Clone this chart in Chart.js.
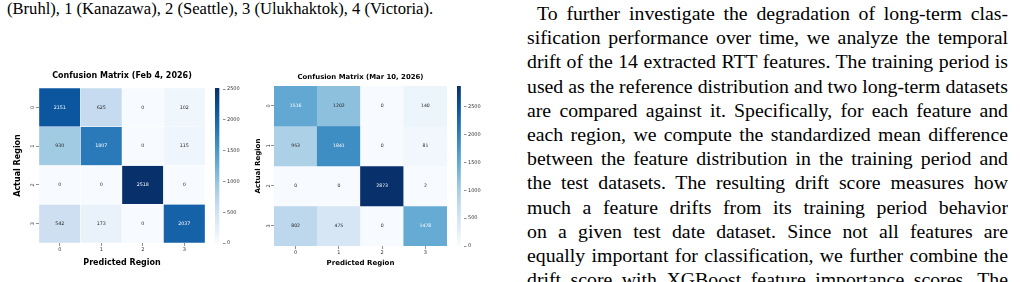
<!DOCTYPE html>
<html>
<head>
<meta charset="utf-8">
<script src="https://cdn.jsdelivr.net/npm/chart.js@4.4.1/dist/chart.umd.min.js"></script>
<style>
html, body { margin: 0; padding: 0; background: #fff; }
body { width: 1021px; height: 282px; overflow: hidden; position: relative; font-family: "Liberation Serif", "Times New Roman", serif; color: #000; }
.caption { position: absolute; left: 7px; top: -1px; font-size: 16.6px; line-height: 20px; white-space: nowrap; }
.para { position: absolute; left: 527px; top: 1px; width: 481px; font-size: 19.8px; }
.para div { height: 24.2px; line-height: 24.2px; overflow: hidden; text-align: justify; text-align-last: justify; }
.para div.first { text-indent: 10px; }
.box { position: absolute; }
</style>
</head>
<body>
<div class="caption">(Bruhl), 1 (Kanazawa), 2 (Seattle), 3 (Ulukhaktok), 4 (Victoria).</div>

<div class="box" style="left:0;top:60px"><canvas id="hm1" width="215" height="222"></canvas></div>
<div class="box" style="left:213px;top:60px"><canvas id="cb1" width="40" height="222"></canvas></div>
<div class="box" style="left:236px;top:60px"><canvas id="hm2" width="221" height="222"></canvas></div>
<div class="box" style="left:455px;top:60px"><canvas id="cb2" width="40" height="222"></canvas></div>

<div class="para">
  <div class="first">To further investigate the degradation of long-term clas-</div>
  <div>sification performance over time, we analyze the temporal</div>
  <div>drift of the 14 extracted RTT features. The training period is</div>
  <div>used as the reference distribution and two long-term datasets</div>
  <div>are compared against it. Specifically, for each feature and</div>
  <div>each region, we compute the standardized mean difference</div>
  <div>between the feature distribution in the training period and</div>
  <div>the test datasets. The resulting drift score measures how</div>
  <div>much a feature drifts from its training period behavior</div>
  <div>on a given test date dataset. Since not all features are</div>
  <div>equally important for classification, we further combine the</div>
  <div>drift score with XGBoost feature importance scores. The</div>
</div>

<script>
// region indices on both axes
const predictedLabels = ['0', '1', '2', '3'];
const actualLabels = ['0', '1', '2', '3'];

// rows = actual region, columns = predicted region
const febMatrix = [
    [2151, 625, 0, 102],
    [930, 1807, 0, 115],
    [0, 0, 2518, 0],
    [542, 173, 0, 2037]
];
const marMatrix = [
    [1516, 1202, 0, 140],
    [953, 1841, 0, 81],
    [0, 0, 2873, 2],
    [802, 475, 0, 1478]
];
const colorbarTicks = [0, 500, 1000, 1500, 2000, 2500];

// matplotlib "Blues"
const bluesStops = ['#f7fbff', '#deebf7', '#c6dbef', '#9ecae1', '#6baed6', '#4292c6', '#2171b5', '#08519c', '#08306b'];

Chart.defaults.font.family = '"DejaVu Sans", sans-serif';
Chart.defaults.color = '#333';

function hexToRgb(h) {
    return [1, 3, 5].map(i => parseInt(h.slice(i, i + 2), 16));
}

function blues(t) {
    t = Math.min(1, Math.max(0, t));
    const pos = t * (bluesStops.length - 1);
    const i = Math.min(Math.floor(pos), bluesStops.length - 2);
    const f = pos - i;
    const a = hexToRgb(bluesStops[i]);
    const b = hexToRgb(bluesStops[i + 1]);
    const c = a.map((v, k) => Math.round(v + (b[k] - v) * f));
    return `rgb(${c[0]}, ${c[1]}, ${c[2]})`;
}

// same rule seaborn uses to pick annotation colour
function textColorFor(rgbStr) {
    const rgb = rgbStr.match(/\d+/g).map(Number);
    const lin = rgb.map(v => {
        v /= 255;
        return v <= 0.03928 ? v / 12.92 : Math.pow((v + 0.055) / 1.055, 2.4);
    });
    const lum = 0.2126 * lin[0] + 0.7152 * lin[1] + 0.0722 * lin[2];
    return lum > 0.408 ? '#262626' : '#ffffff';
}

const cellLabels = {
    id: 'cellLabels',
    afterDatasetsDraw(chart, args, opts) {
        const ctx = chart.ctx;
        ctx.save();
        ctx.font = `${opts.size}px "DejaVu Sans"`;
        ctx.textAlign = 'center';
        ctx.textBaseline = 'middle';
        chart.data.datasets.forEach((ds, i) => {
            chart.getDatasetMeta(i).data.forEach((bar, j) => {
                const p = bar.getCenterPoint();
                ctx.fillStyle = textColorFor(ds.backgroundColor[j]);
                ctx.fillText(String(ds.values[j]), p.x, p.y);
            });
        });
        ctx.restore();
    }
};

function makeHeatmap(id, title, matrix, g) {
    const vmax = Math.max(...matrix.flat());
    const datasets = actualLabels.map((lab, r) => ({
        label: 'Actual ' + lab,
        data: matrix[r].map(() => [r, r + 1]),
        values: matrix[r],
        backgroundColor: matrix[r].map(v => blues(v / vmax)),
        borderColor: 'rgba(255, 255, 255, 0.8)',
        borderWidth: g.cellBorder,
        borderSkipped: false,
        barPercentage: 1,
        categoryPercentage: 1,
        grouped: false
    }));

    const tickGrid = { display: true, drawOnChartArea: false, drawTicks: true, tickLength: 3, color: '#444', lineWidth: 0.6, offset: false };

    new Chart(document.getElementById(id), {
        type: 'bar',
        data: { labels: predictedLabels, datasets: datasets },
        plugins: [cellLabels],
        options: {
            responsive: false,
            animation: false,
            devicePixelRatio: 1,
            layout: { padding: { left: 0, right: g.padRight, top: 0, bottom: 0 } },
            plugins: {
                legend: { display: false },
                tooltip: { enabled: false },
                title: {
                    display: true,
                    text: title,
                    fullSize: false,
                    color: '#000',
                    font: { size: g.titleSize, weight: 'bold', lineHeight: 1.2 },
                    padding: { top: g.titleTop, bottom: g.titleBottom }
                },
                cellLabels: { size: g.cellFont }
            },
            scales: {
                x: {
                    type: 'category',
                    offset: true,
                    grid: tickGrid,
                    border: { display: false },
                    ticks: { font: { size: 5 }, padding: 0.5, color: '#333', maxRotation: 0 },
                    title: {
                        display: true,
                        text: 'Predicted Region',
                        color: '#000',
                        font: { size: g.axisSize, weight: 'bold', lineHeight: 1.2 },
                        padding: { top: 0, bottom: g.xTitleBottom }
                    },
                    afterFit: s => { s.height = g.xHeight; }
                },
                y: {
                    type: 'linear',
                    min: 0,
                    max: actualLabels.length,
                    reverse: true,
                    grid: tickGrid,
                    border: { display: false },
                    afterBuildTicks: s => { s.ticks = actualLabels.map((l, i) => ({ value: i + 0.5 })); },
                    ticks: {
                        font: { size: 5 },
                        color: '#333',
                        padding: g.yTickPad,
                        minRotation: 90,
                        maxRotation: 90,
                        crossAlign: 'center',
                        callback: v => actualLabels[Math.floor(v)]
                    },
                    title: {
                        display: true,
                        text: 'Actual Region',
                        color: '#000',
                        font: { size: g.axisSize, weight: 'bold', lineHeight: 1.2 },
                        padding: { top: g.yTitleTop, bottom: 0 }
                    },
                    afterFit: s => { s.width = g.yWidth; }
                }
            }
        }
    });
    return vmax;
}

function makeColorbar(id, vmax, g) {
    new Chart(document.getElementById(id), {
        type: 'bar',
        data: {
            labels: ['value'],
            datasets: [{
                data: [[0, vmax]],
                backgroundColor: c => {
                    const a = c.chart.chartArea;
                    if (!a) return bluesStops[4];
                    const grad = c.chart.ctx.createLinearGradient(0, a.bottom, 0, a.top);
                    bluesStops.forEach((s, i) => grad.addColorStop(i / (bluesStops.length - 1), s));
                    return grad;
                },
                borderWidth: 0,
                barPercentage: 1,
                categoryPercentage: 1
            }]
        },
        options: {
            responsive: false,
            animation: false,
            devicePixelRatio: 1,
            layout: { padding: { left: 2, right: 0, top: g.top, bottom: g.bottom } },
            plugins: { legend: { display: false }, tooltip: { enabled: false } },
            scales: {
                x: { display: false, offset: false },
                y: {
                    position: 'right',
                    min: 0,
                    max: vmax,
                    afterBuildTicks: s => { s.ticks = colorbarTicks.filter(v => v <= vmax).map(v => ({ value: v })); },
                    grid: { display: true, drawOnChartArea: false, tickLength: 2.5, color: '#444', lineWidth: 0.6 },
                    border: { display: false },
                    ticks: { font: { size: 5 }, color: '#333', padding: 1.5, callback: v => String(v) },
                    afterFit: s => { s.width = g.width; }
                }
            }
        }
    });
}

const vmaxFeb = makeHeatmap('hm1', 'Confusion Matrix (Feb 4, 2026)', febMatrix, {
    padRight: 10, titleSize: 8, titleTop: 11.2, titleBottom: 7.2, axisSize: 8,
    xTitleBottom: 14.7, xHeight: 39, yWidth: 39, yTitleTop: 12.8, yTickPad: 2, cellFont: 4.8, cellBorder: 0.5
});
makeColorbar('cb1', vmaxFeb, { top: 28, bottom: 39, width: 30 });

const vmaxMar = makeHeatmap('hm2', 'Confusion Matrix (Mar 10, 2026)', marMatrix, {
    padRight: 10, titleSize: 6.9, titleTop: 12.9, titleBottom: 4.8, axisSize: 7,
    xTitleBottom: 14.8, xHeight: 36, yWidth: 38, yTitleTop: 17.8, yTickPad: 1.2, cellFont: 4.6, cellBorder: 0
});
makeColorbar('cb2', vmaxMar, { top: 26, bottom: 36, width: 31 });
</script>
</body>
</html>
